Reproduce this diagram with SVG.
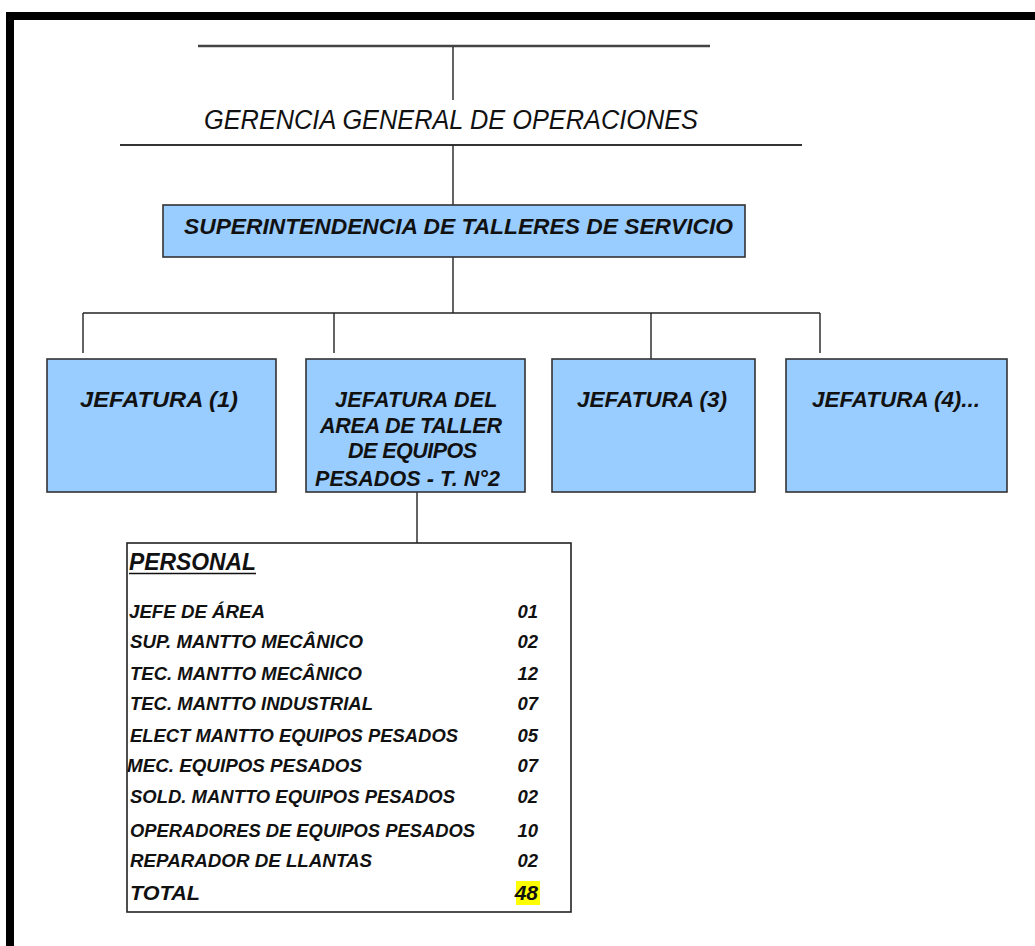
<svg xmlns="http://www.w3.org/2000/svg" width="1035" height="946" viewBox="0 0 1035 946">
<style>
.ln{stroke:#222;stroke-width:1.4;fill:none}
.box{fill:#99CCFF;stroke:#333;stroke-width:1.6}
.t{font-family:"Liberation Sans",Arial,sans-serif;font-style:italic;fill:#111}
.b{font-weight:bold}
.row{font-family:"Liberation Sans",Arial,sans-serif;font-style:italic;font-weight:bold;font-size:18.5px;fill:#111}
</style>
<rect width="1035" height="946" fill="#fff"/>
<g id="frame">
<rect x="6" y="12" width="1029" height="8" fill="#000"/>
<rect x="6" y="12" width="8" height="934" fill="#000"/>
</g>
<g id="connectors">
<line x1="198" y1="46" x2="710" y2="46" stroke="#444" stroke-width="2.4"/>
<line class="ln" x1="453" y1="47" x2="453" y2="100"/>
<line x1="120" y1="145" x2="802" y2="145" stroke="#333" stroke-width="2"/>
<line class="ln" x1="453" y1="145" x2="453" y2="205"/>
<line class="ln" x1="453" y1="257" x2="453" y2="313"/>
<line class="ln" x1="83" y1="313" x2="820" y2="313"/>
<line class="ln" x1="83" y1="313" x2="83" y2="353"/>
<line class="ln" x1="334" y1="313" x2="334" y2="353"/>
<line class="ln" x1="651" y1="313" x2="651" y2="359"/>
<line class="ln" x1="820" y1="313" x2="820" y2="353"/>
<line class="ln" x1="417" y1="492" x2="417" y2="543"/>
</g>
<g id="gerencia">
<text class="t" x="204" y="129" font-size="27" textLength="494" lengthAdjust="spacingAndGlyphs">GERENCIA GENERAL DE OPERACIONES</text>
</g>
<g id="superintendencia">
<rect class="box" x="163" y="205" width="582" height="52"/>
<text class="t b" x="184" y="234" font-size="22" textLength="549" lengthAdjust="spacingAndGlyphs">SUPERINTENDENCIA DE TALLERES DE SERVICIO</text>
</g>
<g id="jefatura1">
<rect class="box" x="47" y="359" width="229" height="133"/>
<text class="t b" x="80" y="407" font-size="22" textLength="158" lengthAdjust="spacingAndGlyphs">JEFATURA (1)</text>
</g>
<g id="jefatura2">
<rect class="box" x="306" y="359" width="219" height="133"/>
<text class="t b" font-size="21.5" lengthAdjust="spacingAndGlyphs">
<tspan x="335" y="407" textLength="162">JEFATURA  DEL</tspan>
<tspan x="320" y="433" textLength="182">AREA DE TALLER</tspan>
<tspan x="348" y="458" textLength="129">DE EQUIPOS</tspan>
<tspan x="315" y="486" textLength="185">PESADOS  - T. N°2</tspan>
</text>
</g>
<g id="jefatura3">
<rect class="box" x="552" y="359" width="203" height="133"/>
<text class="t" x="577" y="407" font-size="22" textLength="150" lengthAdjust="spacingAndGlyphs" style="font-weight:600">JEFATURA  (3)</text>
</g>
<g id="jefatura4">
<rect class="box" x="786" y="359" width="221" height="133"/>
<text class="t" x="812" y="407" font-size="22" textLength="168" lengthAdjust="spacingAndGlyphs" style="font-weight:600">JEFATURA  (4)...</text>
</g>
<g id="personal">
<rect x="127" y="543" width="444" height="369" fill="#fff" stroke="#222" stroke-width="1.6"/>
<text class="t b" x="129" y="570" font-size="23" textLength="127" lengthAdjust="spacingAndGlyphs">PERSONAL</text>
<line x1="129" y1="573.5" x2="256" y2="573.5" stroke="#111" stroke-width="1.6"/>
<text class="row" x="129" y="618" textLength="136" lengthAdjust="spacingAndGlyphs">JEFE DE ÁREA</text>
<text class="row" x="130" y="648" textLength="233" lengthAdjust="spacingAndGlyphs">SUP. MANTTO MECÂNICO</text>
<text class="row" x="130" y="680" textLength="232" lengthAdjust="spacingAndGlyphs">TEC. MANTTO MECÂNICO</text>
<text class="row" x="130" y="710" textLength="243" lengthAdjust="spacingAndGlyphs">TEC. MANTTO INDUSTRIAL</text>
<text class="row" x="130" y="742" textLength="328" lengthAdjust="spacingAndGlyphs">ELECT MANTTO EQUIPOS PESADOS</text>
<text class="row" x="127" y="772" textLength="235" lengthAdjust="spacingAndGlyphs">MEC. EQUIPOS PESADOS</text>
<text class="row" x="130" y="803" textLength="325" lengthAdjust="spacingAndGlyphs">SOLD. MANTTO EQUIPOS PESADOS</text>
<text class="row" x="130" y="837" textLength="345" lengthAdjust="spacingAndGlyphs">OPERADORES DE EQUIPOS PESADOS</text>
<text class="row" x="130" y="867" textLength="242" lengthAdjust="spacingAndGlyphs">REPARADOR DE LLANTAS</text>
<text class="t b" x="130" y="900" font-size="21" textLength="70" lengthAdjust="spacingAndGlyphs">TOTAL</text>
<g class="row" text-anchor="end">
<text x="538" y="618">01</text>
<text x="538" y="648">02</text>
<text x="538" y="680">12</text>
<text x="538" y="710">07</text>
<text x="538" y="742">05</text>
<text x="538" y="772">07</text>
<text x="538" y="803">02</text>
<text x="538" y="837">10</text>
<text x="538" y="867">02</text>
</g>
<rect x="516" y="881" width="24" height="24" fill="#FFFF00"/>
<text class="t b" x="538" y="900" font-size="21" text-anchor="end">48</text>
</g>
</svg>
